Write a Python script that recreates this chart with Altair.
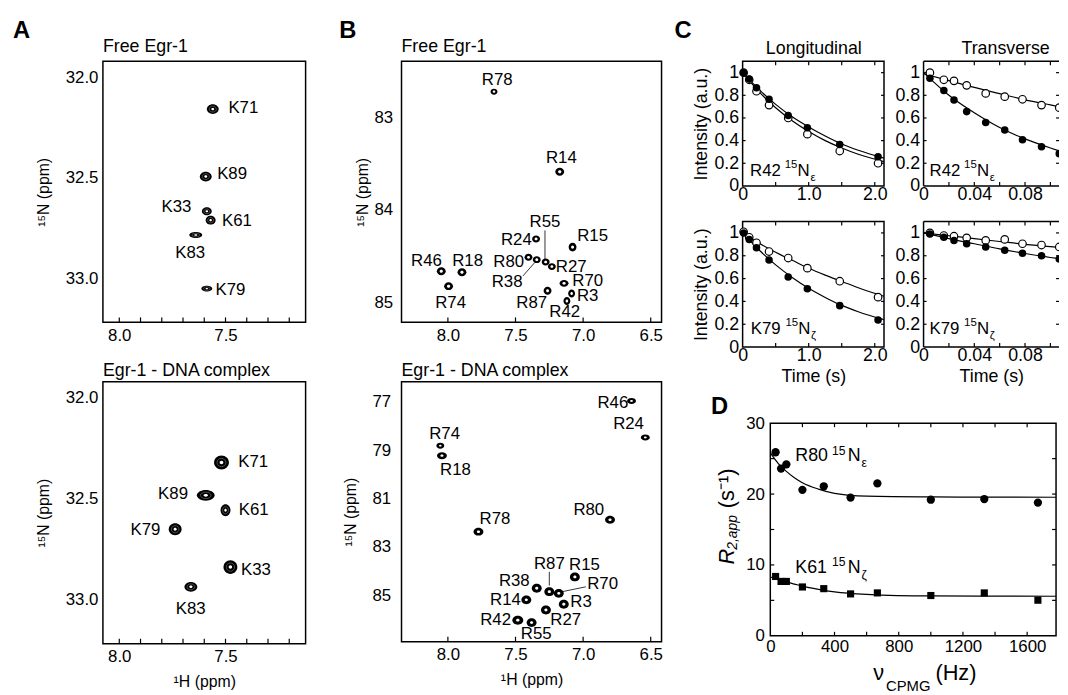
import altair as alt
import pandas as pd

FONT = "Liberation Sans"

# ================= Panel A : lysine NZ region =================
A_free_peaks = ["K71", "K89", "K33", "K61", "K83", "K79"]
A_free_H = [7.560, 7.593, 7.588, 7.570, 7.640, 7.588]
A_free_N = [32.158, 32.494, 32.667, 32.711, 32.785, 33.052]
A_free_lab_H = [7.416, 7.469, 7.731, 7.446, 7.666, 7.477]
A_free_lab_N = [32.152, 32.480, 32.645, 32.715, 32.876, 33.057]

A_cplx_peaks = ["K71", "K89", "K61", "K79", "K33", "K83"]
A_cplx_H = [7.519, 7.593, 7.500, 7.737, 7.477, 7.663]
A_cplx_N = [32.321, 32.484, 32.558, 32.652, 32.840, 32.938]
A_cplx_lab_H = [7.370, 7.747, 7.367, 7.877, 7.357, 7.664]
A_cplx_lab_N = [32.317, 32.480, 32.556, 32.655, 32.853, 33.048]

A_x_labels = [8.0, 7.5]
A_x_ticks = [8.0, 7.9, 7.8, 7.7, 7.6, 7.5, 7.4, 7.3, 7.2]
A_y_labels = [32.0, 32.5, 33.0]

# ================= Panel B : arginine NE region =================
B_free_peaks = ["R78", "R14", "R24", "R15", "R80", "R38", "R55", "R27",
                "R46", "R18", "R74", "R70", "R87", "R3", "R42"]
B_free_H = [7.659, 7.173, 7.348, 7.078, 7.404, 7.343, 7.277, 7.231,
            8.049, 7.896, 7.995, 7.141, 7.263, 7.085, 7.120]
B_free_N = [82.727, 83.588, 84.312, 84.400, 84.510, 84.535, 84.560, 84.610,
            84.660, 84.670, 84.820, 84.790, 84.870, 84.900, 84.980]
B_free_lab_H = [7.635, 7.161, 7.494, 6.930, 7.550, 7.562, 7.282, 7.088,
                8.158, 7.854, 7.980, 6.966, 7.380, 6.966, 7.136]
B_free_lab_N = [82.600, 83.436, 84.323, 84.280, 84.560, 84.780, 84.135, 84.610,
                84.550, 84.550, 84.997, 84.770, 85.000, 84.930, 85.100]
B_free_lines_h1 = [7.282, 7.445]
B_free_lines_n1 = [84.22, 84.71]
B_free_lines_h2 = [7.282, 7.360]
B_free_lines_n2 = [84.54, 84.57]

B_cplx_peaks = ["R74", "R18", "R78", "R80", "R46", "R24", "R15", "R38",
                "R87", "R70", "R14", "R3", "R27", "R42", "R55"]
B_cplx_H = [8.056, 8.044, 7.774, 6.801, 6.642, 6.540, 7.061, 7.343,
            7.250, 7.180, 7.420, 7.143, 7.275, 7.483, 7.381]
B_cplx_N = [78.82, 79.23, 82.37, 81.88, 76.97, 78.48, 84.24, 84.71,
            84.85, 84.92, 85.19, 85.37, 85.61, 86.03, 86.13]
B_cplx_lab_H = [8.024, 7.944, 7.652, 6.958, 6.780, 6.664, 6.990, 7.509,
                7.250, 6.856, 7.574, 7.015, 7.129, 7.647, 7.347]
B_cplx_lab_N = [78.33, 79.83, 81.85, 81.47, 77.05, 77.91, 83.76, 84.40,
                83.69, 84.55, 85.20, 85.29, 86.01, 86.02, 86.60]
B_cplx_lines_h1 = [7.250, 6.980]
B_cplx_lines_n1 = [84.03, 84.65]
B_cplx_lines_h2 = [7.250, 7.162]
B_cplx_lines_n2 = [84.60, 84.86]

B_x_labels = [8.0, 7.5, 7.0, 6.5]
B_free_y_labels = [83, 84, 85]
B_cplx_y_labels = [77, 79, 81, 83, 85]

# ================= Panel C : relaxation decays =================
C_t_long = [0.015, 0.10, 0.21, 0.40, 0.69, 0.98, 1.47, 2.05]
C_t_trans = [0.005, 0.016, 0.024, 0.034, 0.049, 0.064, 0.078, 0.093, 0.107]

R42_long_filled = [1.00, 0.943, 0.866, 0.765, 0.622, 0.514, 0.365, 0.257]
R42_long_open = [1.00, 0.937, 0.836, 0.714, 0.600, 0.457, 0.308, 0.200]
R42_trans_filled = [0.951, 0.842, 0.759, 0.656, 0.560, 0.494, 0.408, 0.345, 0.285]
R42_trans_open = [1.000, 0.937, 0.928, 0.888, 0.817, 0.788, 0.765, 0.714, 0.691]
K79_long_filled = [1.00, 0.943, 0.871, 0.763, 0.614, 0.511, 0.363, 0.237]
K79_long_open = [1.01, 0.962, 0.914, 0.837, 0.780, 0.691, 0.577, 0.437]
K79_trans_filled = [0.991, 0.962, 0.934, 0.905, 0.877, 0.848, 0.822, 0.800, 0.771]
K79_trans_open = [1.000, 0.977, 0.971, 0.957, 0.934, 0.943, 0.905, 0.894, 0.877]

C_t_fit_long = [0, 0.25, 0.5, 0.75, 1.0, 1.25, 1.5, 1.75, 2.14]
R42_long_fit_filled = [1.0, 0.85, 0.72, 0.61, 0.52, 0.44, 0.37, 0.315, 0.245]
R42_long_fit_open = [1.0, 0.83, 0.69, 0.575, 0.48, 0.40, 0.335, 0.28, 0.215]
K79_long_fit_filled = [1.0, 0.85, 0.72, 0.61, 0.515, 0.435, 0.365, 0.31, 0.24]
K79_long_fit_open = [1.0, 0.91, 0.83, 0.76, 0.69, 0.63, 0.575, 0.52, 0.445]
C_t_fit_trans = [0, 0.02, 0.04, 0.06, 0.08, 0.10, 0.1068]
R42_trans_fit_filled = [1.0, 0.80, 0.645, 0.515, 0.415, 0.335, 0.31]
R42_trans_fit_open = [0.99, 0.93, 0.87, 0.815, 0.76, 0.715, 0.70]
K79_trans_fit_filled = [1.0, 0.95, 0.905, 0.86, 0.82, 0.785, 0.775]
K79_trans_fit_open = [1.0, 0.975, 0.95, 0.925, 0.90, 0.88, 0.874]

C_y_labels = [0, 0.2, 0.4, 0.6, 0.8, 1.0]
C_long_x_labels = [0, 1.0, 2.0]
C_long_x_ticks = [0.5, 1.0, 1.5, 2.0]
C_trans_x_labels = [0, 0.04, 0.08]
C_trans_x_ticks = [0.02, 0.04, 0.06, 0.08, 0.10]
C_y_ticks = [0.2, 0.4, 0.6, 0.8, 1.0]

# ================= Panel D : CPMG dispersion =================
D_nu = [33, 67, 100, 200, 333, 500, 667, 1000, 1333, 1667]
D_R80 = [25.9, 23.6, 24.2, 20.6, 21.1, 19.5, 21.5, 19.2, 19.3, 18.8]
D_K61 = [8.37, 7.67, 7.67, 6.89, 6.65, 5.91, 6.05, 5.68, 6.05, 5.02]
D_fit_nu = [0, 50, 100, 150, 200, 300, 400, 600, 1000, 1780]
D_fit_R80 = [25.8, 24.3, 23.2, 22.3, 21.6, 20.7, 20.1, 19.7, 19.6, 19.55]
D_fit_K61 = [8.3, 7.95, 7.6, 7.3, 7.0, 6.55, 6.2, 5.85, 5.62, 5.58]
D_x_labels = [0, 400, 800, 1200, 1600]
D_x_ticks = [200, 400, 600, 800, 1000, 1200, 1400, 1600]
D_y_labels = [0, 10, 20, 30]
D_y_ticks = [5, 10, 15, 20, 25]

# ---------------- peak appearance (styles, px) ----------------
A_free_style = {"K71": (12, 10), "K89": (12, 10), "K33": (10, 8), "K61": (10, 9),
                "K83": (13, 6), "K79": (11, 6)}
A_cplx_style = {"K71": (15, 14), "K89": (18, 11), "K61": (10, 12), "K79": (13, 12),
                "K33": (14, 14), "K83": (13, 10)}
B_free_style = {"R78": (7, 6), "R14": (9, 8), "R15": (8, 9), "R46": (9, 8), "R18": (9, 8),
                "R74": (9, 8), "R70": (9, 7), "R87": (8, 8), "R3": (7, 8), "R42": (7, 8)}
B_cplx_style = {"R74": (8, 6), "R18": (10, 7), "R78": (10, 8), "R80": (10, 8), "R46": (9, 6),
                "R24": (9, 6), "R42": (11, 9)}


def ellipse_path(w, h):
    r = h / w
    return f"M-1,0A1,{r:.3f} 0 1,0 1,0A1,{r:.3f} 0 1,0 -1,0Z"


def X(field, scale, axis):
    return alt.X(f"{field}:Q", scale=scale, axis=axis)


def Y(field, scale, axis):
    return alt.Y(f"{field}:Q", scale=scale, axis=axis)


def text_at(txt, x, y, size, **kw):
    return alt.Chart(pd.DataFrame({"t": [txt]})).mark_text(
        font=FONT, fontSize=size, **kw).encode(
        x=alt.value(x), y=alt.value(y), text="t:N")


def letter(txt, x, y):
    return text_at(txt, x, y, 24, fontWeight="bold", align="left", baseline="alphabetic")


def x_ticks(vals, xs, xax, h, L, bottom=True, top=False):
    d = pd.DataFrame({"v": vals})
    out = []
    if bottom:
        out.append(alt.Chart(d).mark_rule(color="black", strokeWidth=1.2).encode(
            x=X("v", xs, xax), y=alt.value(h), y2=alt.value(h - L)))
    if top:
        out.append(alt.Chart(d).mark_rule(color="black", strokeWidth=1.2).encode(
            x=X("v", xs, xax), y=alt.value(0), y2=alt.value(L)))
    return out


def y_ticks(vals, ys, yax, w, L, left=True, right=False):
    d = pd.DataFrame({"v": vals})
    out = []
    if left:
        out.append(alt.Chart(d).mark_rule(color="black", strokeWidth=1.2).encode(
            y=Y("v", ys, yax), x=alt.value(0), x2=alt.value(L)))
    if right:
        out.append(alt.Chart(d).mark_rule(color="black", strokeWidth=1.2).encode(
            y=Y("v", ys, yax), x=alt.value(w), x2=alt.value(w - L)))
    return out


def iso_label(df, xf, yf, xs, ys, xax, yax, size, sup_dx, n_dx, sub_dx):
    """main text + superscript 15 + N + Greek subscript"""
    enc = dict(x=X(xf, xs, xax), y=Y(yf, ys, yax))
    base = dict(font=FONT, align="left", baseline="middle")
    return [
        alt.Chart(df).mark_text(fontSize=size, **base).encode(text="m:N", **enc),
        alt.Chart(df).mark_text(fontSize=size * 0.68, dx=sup_dx, dy=-6, **base).encode(
            text="sup:N", **enc),
        alt.Chart(df).mark_text(fontSize=size, dx=n_dx, **base).encode(text="n:N", **enc),
        alt.Chart(df).mark_text(fontSize=size * 0.68, dx=sub_dx, dy=7, **base).encode(
            text="s:N", **enc),
    ]


def spectrum(peaks, H, N, lab_h, lab_n, styles, default, xs, ys, xax, yax,
             w, h, title, title_y, tick_vals, tick_len, lines=None, extra=(),
             ring_frac=0.6, inner_frac=0.25):
    rows = []
    for name, hh, nn in zip(peaks, H, N):
        pw, ph = styles.get(name, default)
        rows.append({"H": hh, "N": nn, "shp": ellipse_path(pw, ph),
                     "sz": pw * pw, "szr": (ring_frac * pw) ** 2,
                     "szi": (inner_frac * pw) ** 2})
    pk = pd.DataFrame(rows)
    lb = pd.DataFrame({"lh": lab_h, "ln": lab_n, "lab": peaks})
    enc = dict(x=X("H", xs, xax), y=Y("N", ys, yax),
               shape=alt.Shape("shp:N", scale=None))
    outer = alt.Chart(pk).mark_point(filled=True, color="black", opacity=1).encode(
        size=alt.Size("sz:Q", scale=None), **enc)
    inner = alt.Chart(pk).mark_point(filled=True, color="white", opacity=1).encode(
        size=alt.Size("szi:Q", scale=None), **enc)
    labels = alt.Chart(lb).mark_text(font=FONT, fontSize=17).encode(
        x=X("lh", xs, xax), y=Y("ln", ys, yax), text="lab:N")
    layers = [outer]
    if ring_frac > 0:
        layers.append(alt.Chart(pk).mark_point(filled=False, color="#6e6e6e", strokeWidth=0.7,
                                               opacity=1).encode(
            size=alt.Size("szr:Q", scale=None), **enc))
    layers += [inner, labels]
    if lines is not None:
        layers.append(alt.Chart(lines).mark_rule(color="black", strokeWidth=0.8).encode(
            x=X("h1", xs, xax), y=Y("n1", ys, yax), x2="h2:Q", y2="n2:Q"))
    layers += x_ticks(tick_vals, xs, xax, h, tick_len)
    layers.append(text_at(title, 0, title_y, 18, align="left", baseline="alphabetic"))
    layers += list(extra)
    return alt.layer(*layers).properties(width=w, height=h)


def ax(values, fmt=None, title=None, pad=5, tpad=5, size=17, tsize=16, expr=None):
    kw = dict(values=values, labelFontSize=size, labelPadding=pad, title=title,
              titleFontSize=tsize, titlePadding=tpad)
    if fmt is not None:
        kw["format"] = fmt
    if expr is not None:
        kw["labelExpr"] = expr
    return alt.Axis(**kw)


# ---------------- Panel A charts ----------------
A_xs = alt.Scale(domain=[7.123, 8.077], reverse=True, nice=False, zero=False)
A_ys = alt.Scale(domain=[31.92, 33.22], reverse=True, nice=False, zero=False)
A_y_ax = ax(A_y_labels, ".1f", "¹⁵N (ppm)", pad=5, tpad=14)

A1 = spectrum(A_free_peaks, A_free_H, A_free_N, A_free_lab_H, A_free_lab_N,
              A_free_style, (11, 9), A_xs, A_ys, ax(A_x_labels, ".1f", None, pad=5),
              A_y_ax, 205, 264, "Free Egr-1", -9, A_x_ticks, 5,
              extra=[letter("A", -91, -24)])
A2 = spectrum(A_cplx_peaks, A_cplx_H, A_cplx_N, A_cplx_lab_H, A_cplx_lab_N,
              A_cplx_style, (13, 12), A_xs, A_ys,
              ax(A_x_labels, ".1f", "¹H (ppm)", pad=5, tpad=9),
              A_y_ax, 205, 265, "Egr-1 - DNA complex", -6, A_x_ticks, 5)

# ---------------- Panel B charts ----------------
B_xs = alt.Scale(domain=[6.42, 8.343], reverse=True, nice=False, zero=False)
B1_ys = alt.Scale(domain=[82.40, 85.21], reverse=True, nice=False, zero=False)
B2_ys = alt.Scale(domain=[76.17, 86.92], reverse=True, nice=False, zero=False)
B_free_lines = pd.DataFrame({"h1": B_free_lines_h1, "n1": B_free_lines_n1,
                             "h2": B_free_lines_h2, "n2": B_free_lines_n2})
B_cplx_lines = pd.DataFrame({"h1": B_cplx_lines_h1, "n1": B_cplx_lines_n1,
                             "h2": B_cplx_lines_h2, "n2": B_cplx_lines_n2})
B1 = spectrum(B_free_peaks, B_free_H, B_free_N, B_free_lab_H, B_free_lab_N,
              B_free_style, (8, 7), B_xs, B1_ys, ax(B_x_labels, ".1f", None, pad=5),
              ax(B_free_y_labels, "d", "¹⁵N (ppm)", pad=9, tpad=3),
              263, 264, "Free Egr-1", -9, B_x_labels, 5, lines=B_free_lines,
              extra=[letter("B", -63, -24)], ring_frac=0, inner_frac=0.38)
B2 = spectrum(B_cplx_peaks, B_cplx_H, B_cplx_N, B_cplx_lab_H, B_cplx_lab_N,
              B_cplx_style, (10, 9), B_xs, B2_ys,
              ax(B_x_labels, ".1f", "¹H (ppm)", pad=5, tpad=9),
              ax(B_cplx_y_labels, "d", "¹⁵N (ppm)", pad=11, tpad=14),
              263, 263, "Egr-1 - DNA complex", -6, B_x_labels, 5, lines=B_cplx_lines,
              ring_frac=0, inner_frac=0.32)


# ---------------- Panel C charts ----------------
def decay(t_pts, filled_v, open_v, t_fit, fit_f, fit_o, xs, ys, xax, yax, w, h,
          lab_t, lab_v, lab_main, lab_sub, xt, clip=False, extra=()):
    pf = pd.DataFrame({"t": t_pts, "v": filled_v})
    po = pd.DataFrame({"t": t_pts, "v": open_v})
    n = len(t_fit)
    fit = pd.DataFrame({"t": list(t_fit) * 2, "v": list(fit_f) + list(fit_o),
                        "s": ["f"] * n + ["o"] * n})
    lab = pd.DataFrame({"t": [lab_t], "v": [lab_v], "m": [lab_main], "sup": ["15"],
                        "n": ["N"], "s": [lab_sub]})
    lines = alt.Chart(fit).mark_line(color="black", strokeWidth=1.2, interpolate="monotone",
                                     clip=clip).encode(
        x=X("t", xs, xax), y=Y("v", ys, yax), detail="s:N")
    op = alt.Chart(po).mark_point(filled=True, fill="white", stroke="black", strokeWidth=1.2,
                                  size=58, opacity=1, clip=clip).encode(
        x=X("t", xs, xax), y=Y("v", ys, yax))
    fp = alt.Chart(pf).mark_point(filled=True, color="black", size=58, opacity=1,
                                  clip=clip).encode(x=X("t", xs, xax), y=Y("v", ys, yax))
    layers = [lines, op, fp]
    layers += iso_label(lab, "t", "v", xs, ys, xax, yax, 17, 35, 48, 61)
    layers += x_ticks(xt, xs, xax, h, 4, bottom=True, top=True)
    layers += y_ticks(C_y_ticks, ys, yax, w, 3, left=True, right=True)
    layers += list(extra)
    return alt.layer(*layers).properties(width=w, height=h)


C_ys = alt.Scale(domain=[0, 1.1], nice=False, zero=False)
C_long_xs = alt.Scale(domain=[0, 2.14], nice=False, zero=False)
C_trans_w = 137
C_trans_xs = alt.Scale(domain=[0, 0.1068], nice=False, zero=False)
long_expr = "datum.value == 0 ? '0' : format(datum.value, '.1f')"


def c_yax(title):
    return ax(C_y_labels, "~g", title, pad=4, tpad=4, size=18, tsize=18)


def c_xax(labels, title, expr=None):
    return ax(labels, "~g", title, pad=0, tpad=3, size=18, tsize=18, expr=expr)


def frame_open(w, h):
    d = pd.DataFrame({"a": [0]})
    r = dict(color="black", strokeWidth=1.5)
    return [
        alt.Chart(d).mark_rule(**r).encode(x=alt.value(0), y=alt.value(0), y2=alt.value(h)),
        alt.Chart(d).mark_rule(**r).encode(x=alt.value(0), x2=alt.value(w), y=alt.value(0)),
        alt.Chart(d).mark_rule(**r).encode(x=alt.value(0), x2=alt.value(w), y=alt.value(h)),
    ]


C11 = decay(C_t_long, R42_long_filled, R42_long_open, C_t_fit_long, R42_long_fit_filled,
            R42_long_fit_open, C_long_xs, C_ys, c_xax(C_long_x_labels, None, long_expr),
            c_yax("Intensity (a.u.)"), 143, 126, 0.113, 0.13, "R42", "ε",
            C_long_x_ticks,
            extra=[letter("C", -69, -24),
                   text_at("Longitudinal", 72, -7, 18, align="center", baseline="alphabetic")])
C12 = decay(C_t_trans, R42_trans_filled, R42_trans_open, C_t_fit_trans, R42_trans_fit_filled,
            R42_trans_fit_open, C_trans_xs, C_ys, c_xax(C_trans_x_labels, None),
            c_yax(None), C_trans_w, 126, 0.0047, 0.13, "R42", "ε",
            C_trans_x_ticks, clip=True,
            extra=frame_open(C_trans_w, 126) +
            [text_at("Transverse", 83, -7, 18, align="center", baseline="alphabetic")]
            ).properties(view=alt.ViewBackground(strokeOpacity=0))
C21 = decay(C_t_long, K79_long_filled, K79_long_open, C_t_fit_long, K79_long_fit_filled,
            K79_long_fit_open, C_long_xs, C_ys, c_xax(C_long_x_labels, "Time (s)", long_expr),
            c_yax("Intensity (a.u.)"), 143, 127, 0.124, 0.155, "K79", "ζ",
            C_long_x_ticks)
C22 = decay(C_t_trans, K79_trans_filled, K79_trans_open, C_t_fit_trans, K79_trans_fit_filled,
            K79_trans_fit_open, C_trans_xs, C_ys, c_xax(C_trans_x_labels, "Time (s)"),
            c_yax(None), C_trans_w, 127, 0.0047, 0.155, "K79", "ζ",
            C_trans_x_ticks, clip=True,
            extra=frame_open(C_trans_w, 127)).properties(view=alt.ViewBackground(strokeOpacity=0))

# ---------------- Panel D chart ----------------
D_w, D_h = 289, 215
D_xs = alt.Scale(domain=[0, 1780], nice=False, zero=False)
D_ys = alt.Scale(domain=[0, 30], nice=False, zero=False)
D_xax = ax(D_x_labels, "d", None, pad=3, size=17)
D_yax = ax(D_y_labels, "d", None, pad=6, size=17)

d_pts = pd.DataFrame({"nu": D_nu, "r80": D_R80, "k61": D_K61})
d_fit = pd.DataFrame({"nu": D_fit_nu * 2, "r": D_fit_R80 + D_fit_K61,
                      "s": ["R80"] * len(D_fit_nu) + ["K61"] * len(D_fit_nu)})
d_lab = pd.DataFrame({"nu": [156, 156], "r": [25.3, 9.55], "m": ["R80", "K61"],
                      "sup": ["15", "15"], "n": ["N", "N"], "s": ["ε", "ζ"]})

D_layers = [
    alt.Chart(d_fit).mark_line(color="black", strokeWidth=1.2, interpolate="monotone").encode(
        x=X("nu", D_xs, D_xax), y=Y("r", D_ys, D_yax), detail="s:N"),
    alt.Chart(d_pts).mark_point(filled=True, color="black", size=70, opacity=1,
                                shape="circle").encode(
        x=X("nu", D_xs, D_xax), y=Y("r80", D_ys, D_yax)),
    alt.Chart(d_pts).mark_point(filled=True, color="black", size=52, opacity=1,
                                shape="square").encode(
        x=X("nu", D_xs, D_xax), y=Y("k61", D_ys, D_yax)),
]
D_layers += iso_label(d_lab, "nu", "r", D_xs, D_ys, D_xax, D_yax, 18, 37, 53, 67)
D_layers += x_ticks(D_x_ticks, D_xs, D_xax, D_h, 4, bottom=True, top=True)
D_layers += y_ticks(D_y_ticks, D_ys, D_yax, D_w, 4, left=True, right=True)
D_layers += [
    text_at("ν", 104, 260, 22, align="left", baseline="alphabetic"),
    text_at("CPMG", 117, 271, 15, align="left", baseline="alphabetic"),
    text_at("(Hz)", 167, 260, 22, align="left", baseline="alphabetic"),
]
D = alt.layer(*D_layers).properties(width=D_w, height=D_h)

# narrow companion holding the panel letter and the y title of D (offset 27 px)
D_side = alt.layer(
    letter("D", -32, -9),
    text_at("R", -16, 143, 22, angle=270, align="left", baseline="middle", fontStyle="italic"),
    text_at("2,app", -16, 143, 14, angle=270, align="left", baseline="middle",
            fontStyle="italic", dx=15, dy=6),
    text_at("(s⁻¹)", -16, 86, 22, angle=270, align="left", baseline="middle"),
).properties(width=1, height=D_h, view=alt.ViewBackground(strokeOpacity=0))

# ---------------- layout ----------------
colA = alt.vconcat(A1, A2, spacing=17)
colB = alt.vconcat(B1, B2, spacing=17)
rowC1 = alt.hconcat(C11, C12, spacing=6)
rowC2 = alt.hconcat(C21, C22, spacing=6)
rowD = alt.hconcat(D_side, D, spacing=1)
colC = alt.vconcat(alt.vconcat(rowC1, rowC2, spacing=15), rowD, spacing=9)
left = alt.hconcat(colA, colB, spacing=32)
chart = alt.hconcat(left, colC, spacing=10).properties(
    padding={"left": 4, "top": 6, "right": 0, "bottom": 0}
).configure_view(stroke="black", strokeWidth=1.5).configure_axis(
    grid=False, domain=False, ticks=False, labelFont=FONT, titleFont=FONT,
    labelColor="black", titleColor="black", titleFontWeight="normal",
    labelFlush=False, labelOverlap=False
).configure_text(font=FONT)

chart.save("out.html", embed_options={"renderer": "svg", "actions": False})
